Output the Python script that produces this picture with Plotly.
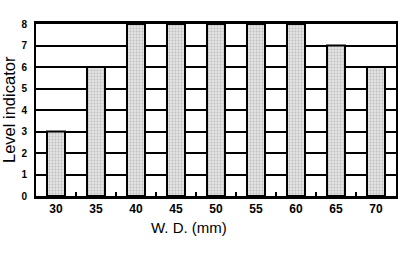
import plotly.graph_objects as go

categories = ["30", "35", "40", "45", "50", "55", "60", "65", "70"]
levels = [3, 6, 8, 8, 8, 8, 8, 7, 6]
y_ticks = [0, 1, 2, 3, 4, 5, 6, 7, 8]

fig = go.Figure()
fig.add_trace(go.Bar(
    x=categories, y=levels, width=0.45,
    marker=dict(color="#d0d0d0", line=dict(color="black", width=2),
                pattern=dict(shape=".", fgcolor="#999999", bgcolor="#e2e2e2", size=3, solidity=0.3)),
))

fig.update_layout(
    width=400, height=258,
    margin=dict(l=36, r=4, t=24, b=62, autoexpand=False),
    paper_bgcolor="white", plot_bgcolor="white",
    showlegend=False,
    font=dict(family="Liberation Sans, Arial", color="black"),
)
fig.update_xaxes(
    type="category", range=[-0.5, 8.5], automargin=False,
    showline=True, linecolor="black", linewidth=2.5, mirror=True,
    showgrid=False, ticks="inside", tickson="boundaries", ticklen=4, tickwidth=1.5, tickcolor="black",
    tickfont=dict(size=12, family="Liberation Sans, Arial", weight="bold"),
    ticklabelstandoff=0,
)
fig.update_yaxes(
    range=[0, 8], tickvals=y_ticks, automargin=False,
    showline=True, linecolor="black", linewidth=2, mirror=True,
    showgrid=True, gridcolor="black", gridwidth=1.5,
    ticks="", tickfont=dict(size=10, family="Liberation Sans, Arial", weight="bold"), ticklabelstandoff=5,
    zeroline=False,
)
fig.add_annotation(text="W. D. (mm)", xref="paper", yref="paper", x=0.425, y=-0.12,
                   xanchor="center", yanchor="top", showarrow=False, font=dict(size=15))
fig.add_annotation(text="Level indicator", xref="paper", yref="paper", x=-0.075, y=0.5,
                   xanchor="center", yanchor="middle", textangle=-90, showarrow=False, font=dict(size=16.5))
fig.write_html("out.html", config={"displayModeBar": False},
               post_script="document.body.style.margin='0px';")
